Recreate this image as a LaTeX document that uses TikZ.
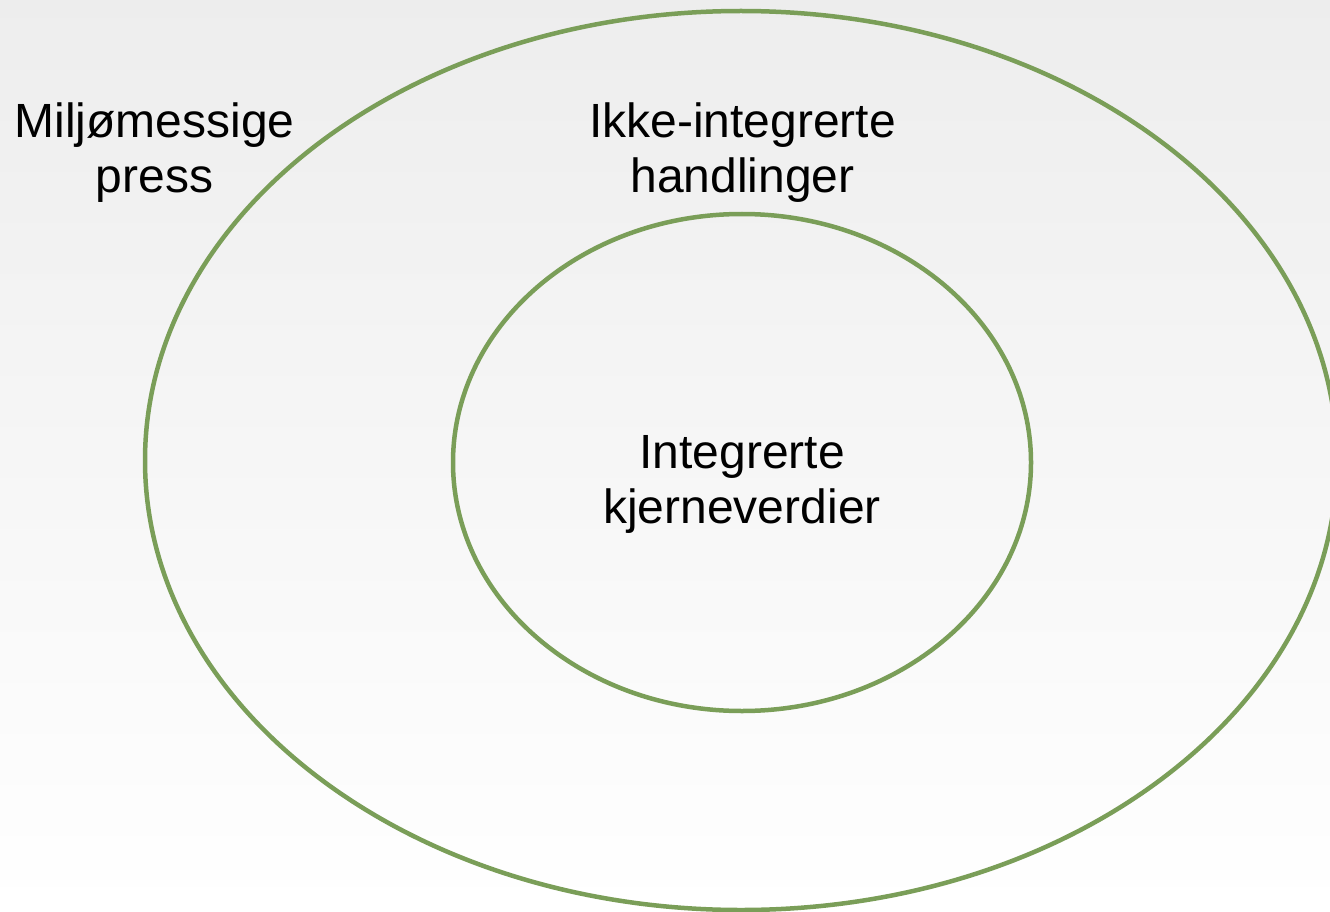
\documentclass[tikz,border=0pt]{standalone}
\usepackage{fontspec}
\setmainfont{Liberation Sans}
\usepackage{tikz}
\definecolor{ringgreen}{RGB}{122,158,88}

\begin{document}
\begin{tikzpicture}[x=1pt, y=-1pt,
    ring/.style={draw=ringgreen, line width=4.5pt},
    lbl/.style={anchor=base, align=center, inner sep=0pt,
        font=\fontsize{48}{55}\selectfont}]
\useasboundingbox (0,0) rectangle (1330,912);
\shade[top color=black!7, bottom color=white] (0,0) rectangle (1330,912);
% rings
\draw[ring] (741,460.5) ellipse [x radius=596, y radius=449.5];
\draw[ring] (742,462.5) ellipse [x radius=289, y radius=248.5];
% labels (base = last line)
\node[lbl] (press) at (154.5,193) {Miljømessige\\press};
\node[lbl] (handlinger) at (742.5,193) {Ikke-integrerte\\handlinger};
\node[lbl] (kjerne) at (742,523) {Integrerte\\kjerneverdier};
\end{tikzpicture}
\end{document}
